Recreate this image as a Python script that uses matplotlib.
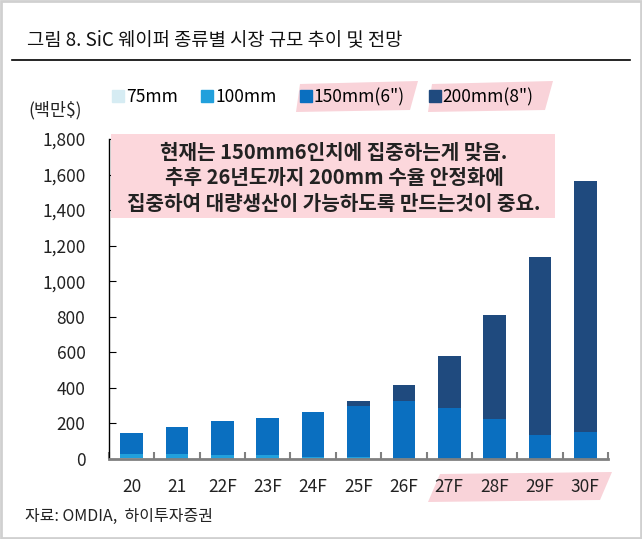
import numpy as np
import matplotlib
matplotlib.use('Agg')
import matplotlib.pyplot as plt
from matplotlib.patches import Polygon, Rectangle
from matplotlib.lines import Line2D

plt.rcParams['font.family'] = ['Noto Sans CJK KR', 'DejaVu Sans']

years = ['20', '21', '22F', '23F', '24F', '25F', '26F', '27F', '28F', '29F', '30F']
y75 = [3, 2, 2, 1, 1, 1, 0, 0, 0, 0, 0]
y100 = [25, 26, 23, 21, 12, 11, 5, 0, 0, 0, 0]
y150 = [117, 152, 187, 208, 251, 286, 321, 287, 225, 133, 150]
y200 = [0, 0, 0, 0, 2, 28, 88, 292, 585, 1001, 1415]
series = ['75mm', '100mm', '150mm(6")', '200mm(8")']
colors = ['#d6ecf3', '#22a0dc', '#0a6fc0', '#1f4a7e']
yticks = [0, 200, 400, 600, 800, 1000, 1200, 1400, 1600, 1800]

W, H = 642, 539
fig = plt.figure(figsize=(W / 100, H / 100), dpi=100)

def fx(px):
    return px / W

def fy(py):
    return 1 - py / H

# frame + title
fig.patches.append(Rectangle((0.002, 0.002), 0.996, 0.996, transform=fig.transFigure,
                             fill=False, edgecolor='#d0d0d0', lw=2))
fig.text(fx(27), fy(40), '그림 8. SiC 웨이퍼 종류별 시장 규모 추이 및 전망',
         fontsize=13.5, fontweight='medium', va='center', ha='left', color='#111111')
fig.add_artist(Line2D([fx(12), fx(630)], [fy(60), fy(60)], color='black', lw=1.2,
                      transform=fig.transFigure))

# pink highlights
pink = '#f9d3d9'
for pts in ([(300, 84), (418, 81), (410, 110), (296, 112)],
            [(432, 84), (553, 81), (545, 110), (428, 112)],
            [(440, 474), (612, 472), (600, 500), (428, 502)]):
    fig.patches.append(Polygon([(fx(a), fy(b)) for a, b in pts], closed=True,
                               transform=fig.transFigure, facecolor=pink,
                               edgecolor='none', zorder=-1))

ax = fig.add_axes([fx(109), fy(459), fx(608) - fx(109), (459 - 139) / H])
ax.patch.set_alpha(0)
x = np.arange(len(years))
w = 0.5
bottom = np.zeros(len(years))
for vals, c, lab in zip([y75, y100, y150, y200], colors, series):
    ax.bar(x, vals, w, bottom=bottom, color=c, label=lab, edgecolor='none')
    bottom += np.array(vals)

ax.set_xlim(-0.5, len(years) - 0.5)
ax.set_ylim(0, 1800)
ax.set_yticks(yticks)
ax.set_yticklabels([f'{v:,}' for v in yticks])
ax.set_xticks(x)
ax.set_xticklabels(years)
ax.set_xticks(np.arange(-0.5, len(years)), minor=True)
ax.tick_params(axis='x', which='major', length=0, pad=14, labelsize=12.5, colors='#222222')
ax.tick_params(axis='x', which='minor', length=5, direction='in', color='#808080', width=1.5)
ax.tick_params(axis='y', length=5, direction='in', pad=17, labelsize=12.5, colors='#222222')
ax.tick_params(axis='y', color='black')
for s in ['top', 'right']:
    ax.spines[s].set_visible(False)
ax.spines['bottom'].set_color('#808080')
ax.spines['bottom'].set_linewidth(2)
ax.spines['left'].set_linewidth(1)

# legend
handles = [Line2D([], [], marker='s', linestyle='none', markersize=8, color=c) for c in colors]
fig.legend(handles, series, loc='center left', bbox_to_anchor=(fx(106), fy(97)),
           ncol=4, frameon=False, fontsize=12.5, handlelength=0.6, handletextpad=0.15,
           columnspacing=1.4, borderaxespad=0)

fig.text(fx(28), fy(110), '(백만$)', fontsize=12.5, va='center', ha='left', color='#222222')

# annotation box
fig.patches.append(Rectangle((fx(111), fy(218)), fx(555) - fx(111), (218 - 134) / H,
                             transform=fig.transFigure, facecolor='#fcd7dc',
                             edgecolor='none', zorder=3))
fig.text(fx(334), fy(178), '현재는 150mm6인치에 집중하는게 맞음.\n'
         '추후 26년도까지 200mm 수율 안정화에\n'
         '집중하여 대량생산이 가능하도록 만드는것이 중요.',
         fontsize=14.5, fontweight='bold', ha='center', va='center', color='#222222',
         linespacing=1.27, zorder=4)

fig.text(fx(25), fy(516), '자료: OMDIA,  하이투자증권', fontsize=11.5, va='center',
         ha='left', color='#222222')

fig.savefig('out.png', dpi=100)
